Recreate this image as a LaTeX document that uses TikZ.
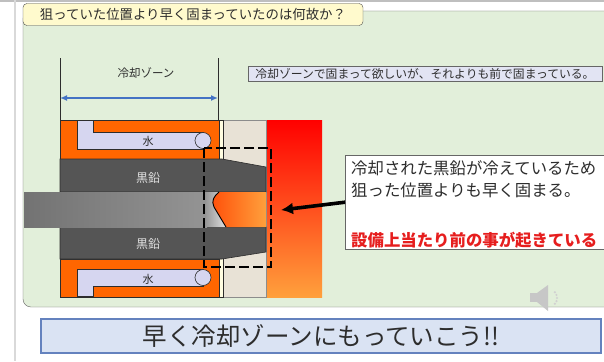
\documentclass[tikz,border=0pt]{standalone}
\usepackage{fontspec}
\setmainfont{Noto Sans CJK JP}
\usetikzlibrary{arrows.meta}

\definecolor{panelgreen}{RGB}{226,239,218}
\definecolor{titleyellow}{RGB}{255,250,205}
\definecolor{moldorange}{RGB}{255,102,0}
\definecolor{waterblue}{RGB}{214,214,240}
\definecolor{graphite}{RGB}{85,85,85}
\definecolor{brick}{RGB}{232,226,214}
\definecolor{cream}{RGB}{255,253,225}
\definecolor{zoneblue}{RGB}{68,114,196}
\definecolor{notefill}{RGB}{226,228,243}
\definecolor{hotred}{RGB}{255,0,0}
\definecolor{hotmid}{RGB}{255,115,25}
\definecolor{hotorange}{RGB}{255,160,60}
\definecolor{meltred}{RGB}{255,80,10}
\definecolor{alarm}{RGB}{230,30,30}
\definecolor{barfill}{RGB}{218,227,243}
\definecolor{barline}{RGB}{100,130,190}
\definecolor{inkgray}{RGB}{45,45,45}

\tikzset{
  part/.style={draw=inkgray, line width=0.6pt},
  water/.style={draw=inkgray, line width=0.6pt, fill=waterblue},
  carbon/.style={draw=inkgray, line width=0.6pt, fill=graphite},
  dashbox/.style={line width=2.8pt, dash pattern=on 10pt off 4pt},
}

\begin{document}
\begin{tikzpicture}[x=1pt, y=-1pt, every node/.style={inner sep=0pt, text=inkgray}]
	\clip (0,0) rectangle (604,361);
	\fill[white] (0,0) rectangle (604,361);
	
	% slide frame lines
	\fill[black!25] (0,0) rectangle (604,2);
	\fill[black!15] (14,0) rectangle (16,361);
	
	% green panel and title
	\draw[black!60, fill=panelgreen, rounded corners=8pt] (23,11) rectangle (640,307);
	\node[draw=black!70, fill=titleyellow, rounded corners=4pt, minimum width=340, minimum height=22,
		font=\fontsize{13.4}{15}\selectfont] (title) at (193,14.5) {狙っていた位置より早く固まっていたのは何故か？};
	
	% --- cooling zone span ---
	\coordinate (zoneL) at (60,98);
	\coordinate (zoneR) at (218,98);
	\draw[inkgray, line width=0.8pt] (60,58) -- (60,120);
	\draw[inkgray, line width=0.8pt] (218,58) -- (218,120);
	\node[font=\fontsize{11.5}{13}\selectfont] (zonelabel) at (146,73) {冷却ゾーン};
	\draw[zoneblue, line width=1.6pt, {Latex[length=7pt,width=6pt]}-{Latex[length=7pt,width=6pt]}] (zoneL) -- (zoneR);
	
	\node[draw=black!60, fill=notefill, minimum width=354, minimum height=15,
		font=\fontsize{11.8}{13}\selectfont] (goal) at (425,73.5) {冷却ゾーンで固まって欲しいが、それよりも前で固まっている。};
	
	% --- furnace side ---
	\shade[top color=hotred, middle color=hotmid, bottom color=hotorange] (266,120) rectangle (322,297);
	\draw[black!45, fill=brick] (223,120) rectangle (266,297);
	\draw[part, fill=cream] (219,120) rectangle (223,297);
	
	% --- water cooled mold ---
	\draw[part, fill=moldorange] (60,120) rectangle (219,159);
	\draw[water] (77,120.5) -- (93,120.5) -- (93,132) -- (203,132) -- (203,149) -- (77,149) -- cycle;
	\draw[water] (203,140.5) circle (8);
	\node (waterT) at (148,141) {\fontsize{11}{12}\selectfont 水};
	
	\draw[part, fill=moldorange] (60,259) rectangle (219,297);
	\draw[water] (77,269) -- (203,269) -- (203,286) -- (93,286) -- (93,296.5) -- (77,296.5) -- cycle;
	\draw[water] (203,277.5) circle (8);
	\node (waterB) at (148,279) {\fontsize{11}{12}\selectfont 水};
	
	% graphite dies
	\draw[carbon] (60,159) -- (222,159) -- (266,167) -- (266,192) -- (60,192) -- cycle;
	\draw[carbon] (60,227) -- (266,227) -- (266,252) -- (222,259) -- (60,259) -- cycle;
	\node[text=white!88!black] (carbonT) at (148,178) {\fontsize{12}{13}\selectfont 黒鉛};
	\node[text=white!88!black] (carbonB) at (148,244) {\fontsize{12}{13}\selectfont 黒鉛};
	
	% --- cast rod and molten tip ---
	\shade[left color=black!55, right color=black!42] (24,192) rectangle (207,227);
	\shade[left color=black!40, right color=black!12] (206,192) -- (219,192)
		.. controls (214,196) and (211,201) .. (214,207) -- (226,227) -- (206,227) -- cycle;
	\shade[left color=meltred, right color=hotorange] (219,192) -- (266,192) -- (266,227) -- (226,227)
		-- (214,207) .. controls (211,201) and (214,196) .. (219,192);
	\draw[line width=0.9pt] (219,192) .. controls (214,196) and (211,201) .. (214,207) -- (226,227);
	
	% solidified region
	\draw[dashbox] (204,148) rectangle (271,267);
	
	% --- explanation ---
	\node[draw=black!60, fill=white, minimum width=280, minimum height=94, anchor=north west] (reason) at (345,155) {};
	\node[anchor=west, font=\fontsize{16.4}{18}\selectfont] (reasonA) at (351,168) {冷却された黒鉛が冷えているため};
	\node[anchor=west, font=\fontsize{16.4}{18}\selectfont] (reasonB) at (351,190) {狙った位置よりも早く固まる。};
	\node[anchor=west, text=alarm, font=\fontsize{16.4}{18}\selectfont\bfseries] (reasonC) at (351,240) {設備上当たり前の事が起きている};
	\coordinate (tip) at (281,210);
	\draw[line width=3.6pt, -{Latex[length=12pt,width=12pt]}] (reason.west) -- (tip);
	
	% sound icon
	\fill[black!22] (530,293) rectangle (537,302);
	\fill[black!22] (537,293) -- (548,285) -- (548,311) -- (537,302) -- cycle;
	\foreach \a in {-40,-20,0,20,40}{
		\fill[black!18] (548,298) ++(\a:9) circle (1.2);
	}
	
	% slogan bar
	\node[draw=barline, line width=1.5pt, fill=barfill, minimum width=560, minimum height=34,
		font=\fontsize{24.5}{26}\selectfont] (slogan) at (321,336) {早く冷却ゾーンにもっていこう!!};
	
\end{tikzpicture}
\end{document}
